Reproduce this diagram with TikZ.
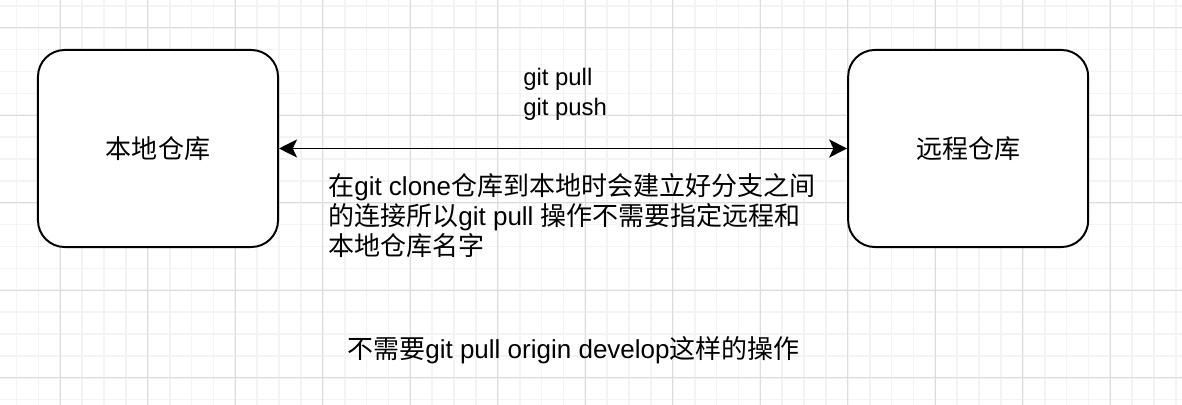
\documentclass[tikz,border=0pt]{standalone}
\usepackage{fontspec}
\setmainfont{Liberation Sans}
\newfontfamily\cjk{Noto Sans CJK SC}
\newcommand{\zh}[1]{{\cjk #1}}
\usepackage{xcolor}
\definecolor{GridMinor}{HTML}{F3F3F3}
\definecolor{GridMajor}{HTML}{DCDCDC}
\colorlet{gridminor}{GridMinor}
\colorlet{gridmajor}{GridMajor}
\usetikzlibrary{arrows.meta,positioning}

\begin{document}
\begin{tikzpicture}[x=0.025cm,y=-0.025cm,every node/.style={font=\fontsize{18.5}{21.4}\selectfont},
  repo/.style={draw,line width=1.4pt,rounded corners=19pt,minimum width=6cm,minimum height=4.925cm,fill=white},
  txt/.style={anchor=west,align=left,inner sep=0pt}]
\fill[white] (0,0) rectangle (1182,405);
\useasboundingbox (0,0) rectangle (1182,405);
% background grid
\foreach \x in {16.55,38.425,...,1182} \draw[gridminor,line width=1.2pt] (\x,0) -- (\x,405);
\foreach \y in {5.9,27.775,...,405} \draw[gridminor,line width=1.2pt] (0,\y) -- (1182,\y);
\foreach \x in {60.3,147.8,...,1182} \draw[gridmajor,line width=0.7pt] (\x,0) -- (\x,405);
\foreach \y in {27.8,115.3,...,405} \draw[gridmajor,line width=0.7pt] (0,\y) -- (1182,\y);
% repositories
\node[repo] (local) at (158,148.5) {\zh{本地仓库}};
\node[repo,right=14.2cm of local] (remote) {\zh{远程仓库}};
\draw[{Stealth[length=12.8pt,width=12.8pt,inset=3pt]}-{Stealth[length=12.8pt,width=12.8pt,inset=3pt]},line width=1.4pt] (local)--(remote);
% labels
\node[txt,font=\fontsize{17}{21.4}\selectfont] (cmd) at (523,94) {git pull\\git push};
\node[txt] (note) at (328,215.5) {\zh{在}git clone\zh{仓库到本地时会建立好分支之间}\\\zh{的连接所以}git pull \zh{操作不需要指定远程和}\\\zh{本地仓库名字}};
\node[txt] (tip) at (347,350) {\zh{不需要}git pull origin develop\zh{这样的操作}};
\end{tikzpicture}
\end{document}
